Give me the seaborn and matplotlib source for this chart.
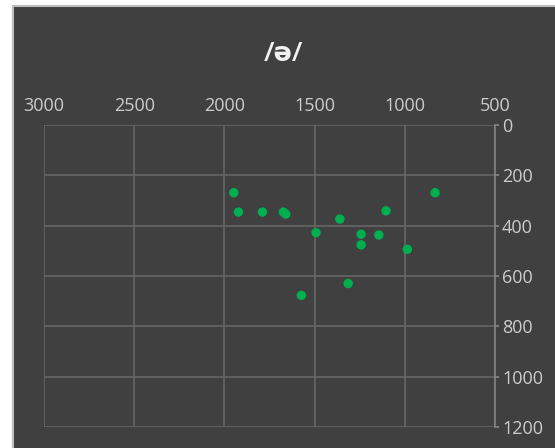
import matplotlib
matplotlib.use("Agg")
import matplotlib.pyplot as plt
from matplotlib.patches import Rectangle
import pandas as pd
import seaborn as sns

# Formant measurements for the schwa vowel (Hz)
f2_values = [1948, 1922, 1789, 1673, 1660, 1360, 1104, 832, 1492, 1242, 1144, 1242, 986, 1314, 1573]
f1_values = [269, 346, 346, 346, 354, 374, 341, 269, 428, 434, 437, 476, 494, 630, 677]
x_ticks = [3000, 2500, 2000, 1500, 1000, 500]
y_ticks = [0, 200, 400, 600, 800, 1000, 1200]
title_text = "/ə/"

df = pd.DataFrame({"F2": f2_values, "F1": f1_values})

sns.set_style("white")
plt.rcParams["font.family"] = ["Open Sans", "DejaVu Sans"]

W, H = 555, 448
fig = plt.figure(figsize=(W / 100, H / 100), dpi=100, facecolor="white")

# dark chart panel with a thin light frame on the left and top
panel = Rectangle((12.5 / W, -0.05), 1.1, 1.05 - 6.5 / H,
                  transform=fig.transFigure, facecolor="#404040",
                  edgecolor="#bdbdbd", linewidth=1.5, zorder=-10)
fig.patches.append(panel)

ax = fig.add_axes([44 / W, 1 - 427 / H, (495 - 44) / W, (427 - 125) / H])
ax.set_facecolor("none")

sns.scatterplot(data=df, x="F2", y="F1", ax=ax, color="#00b050",
                s=46, edgecolor="none", legend=False, zorder=3)

ax.set_xlim(3000, 500)
ax.set_ylim(1200, 0)
ax.set_xticks(x_ticks)
ax.set_yticks(y_ticks)
ax.xaxis.tick_top()
ax.yaxis.tick_right()
ax.set_xlabel("")
ax.set_ylabel("")

grid_col = "#696969"
ax.grid(True, color=grid_col, linewidth=1.1)
for side in ["left", "top", "bottom"]:
    ax.spines[side].set_visible(False)
ax.spines["right"].set_color("#8a8a8a")
ax.spines["right"].set_linewidth(1.1)

ax.tick_params(axis="x", top=False, bottom=False, pad=4,
               labelsize=13, labelcolor="#cccccc")
ax.tick_params(axis="y", right=True, length=3, width=1.1, color="#8a8a8a",
               pad=2, labelsize=13, labelcolor="#cccccc")

fig.text(284 / W, 1 - 54 / H, title_text, ha="center", va="center",
         fontsize=19.5, fontweight="semibold", color="#f2f2f2")

fig.savefig("out.png", dpi=100, facecolor="white")
